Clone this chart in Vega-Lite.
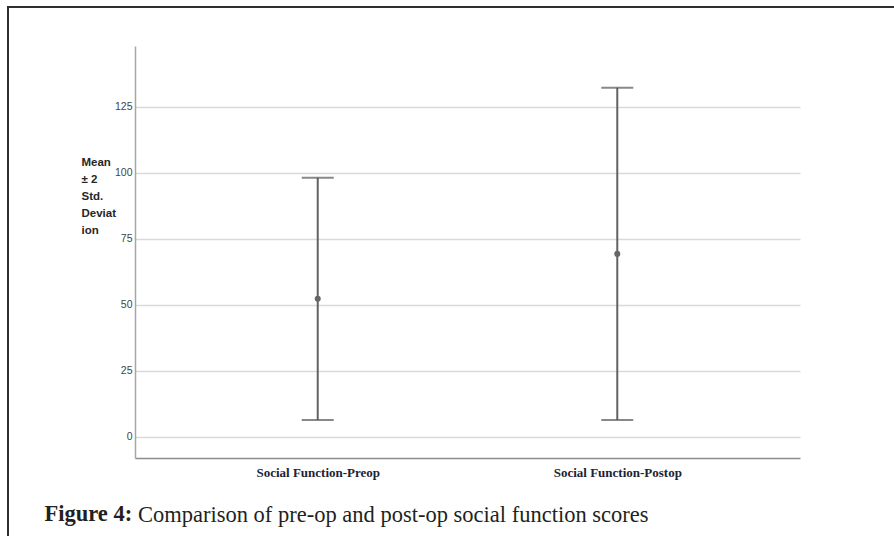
{
  "$schema": "https://vega.github.io/schema/vega-lite/v6.json",
  "width": 898,
  "height": 541,
  "autosize": {"type": "none"},
  "padding": {"left": 8, "top": 7, "right": -12, "bottom": -12},
  "background": "white",
  "config": {
    "view": {"stroke": "#2e2e2e", "strokeWidth": 2},
    "axis": {"grid": false},
    "axisX": {"labelFont": "Liberation Serif", "labelFontWeight": "bold", "labelFontSize": 13}
  },
  "title": {
    "text": "Comparison of pre-op and post-op social function scores",
    "orient": "top",
    "anchor": "start",
    "frame": "group",
    "offset": 0,
    "baseline": "alphabetic",
    "dx": 130,
    "dy": 537,
    "font": "Liberation Serif",
    "fontSize": 22.5,
    "fontWeight": "normal",
    "color": "#231f20"
  },
  "data": {
    "values": [
      {"group": "Social Function-Preop", "mean": 52.3, "lower": 6.4, "upper": 98.1},
      {"group": "Social Function-Postop", "mean": 69.3, "lower": 6.4, "upper": 132.2}
    ]
  },
  "encoding": {
    "x": {
      "field": "group",
      "type": "nominal",
      "sort": ["Social Function-Preop", "Social Function-Postop"],
      "scale": {"type": "point", "range": [127, 792], "padding": 0.61},
      "axis": {
        "orient": "bottom",
        "offset": -90,
        "domain": true,
        "domainColor": "#8c8c8c",
        "domainWidth": 1.5,
        "ticks": false,
        "grid": false,
        "labelAngle": 0,
        "labelFont": "Liberation Serif",
        "labelFontWeight": "bold",
        "labelFontSize": 13,
        "labelColor": "#1c2333",
        "labelPadding": 8,
        "labelBaseline": "top",
        "title": "Figure 4:",
        "titleFont": "Liberation Serif",
        "titleFontWeight": "bold",
        "titleFontSize": 22.5,
        "titleColor": "#231f20",
        "titleX": 36,
        "titleY": 62,
        "titleAlign": "left",
        "titleAnchor": "start",
        "titleBaseline": "alphabetic"
      }
    }
  },
  "layer": [
    {
      "mark": {"type": "rule", "color": "#626262", "strokeWidth": 2},
      "encoding": {
        "y": {
          "field": "lower",
          "type": "quantitative",
          "scale": {"domain": [-8, 148], "range": [451, 39], "nice": false, "zero": false},
          "axis": {
            "orient": "left",
            "offset": -127,
            "values": [0, 25, 50, 75, 100, 125],
            "domain": true,
            "domainColor": "#a6a6a6",
            "domainWidth": 1.5,
            "ticks": false,
            "grid": true,
            "gridColor": "#d9d9d9",
            "gridWidth": 1.5,
            "labelFont": "Liberation Sans",
            "labelFontSize": 10.5,
            "labelColor": "#444444",
            "labelPadding": 3,
            "title": ["Mean", "± 2", "Std.", "Deviat", "ion"],
            "titleAngle": 0,
            "titleAlign": "left",
            "titleBaseline": "top",
            "titleX": -54,
            "titleY": 149,
            "titleLineHeight": 17,
            "titleFont": "Liberation Sans",
            "titleFontSize": 11.5,
            "titleFontWeight": "bold",
            "titleColor": "#262626"
          }
        },
        "y2": {"field": "upper"}
      }
    },
    {
      "mark": {"type": "tick", "color": "#555555", "size": 32, "thickness": 2},
      "encoding": {"y": {"field": "upper", "type": "quantitative"}}
    },
    {
      "mark": {"type": "tick", "color": "#555555", "size": 32, "thickness": 2},
      "encoding": {"y": {"field": "lower", "type": "quantitative"}}
    },
    {
      "mark": {"type": "point", "filled": true, "color": "#666666", "size": 36, "opacity": 1},
      "encoding": {"y": {"field": "mean", "type": "quantitative"}}
    }
  ]
}
